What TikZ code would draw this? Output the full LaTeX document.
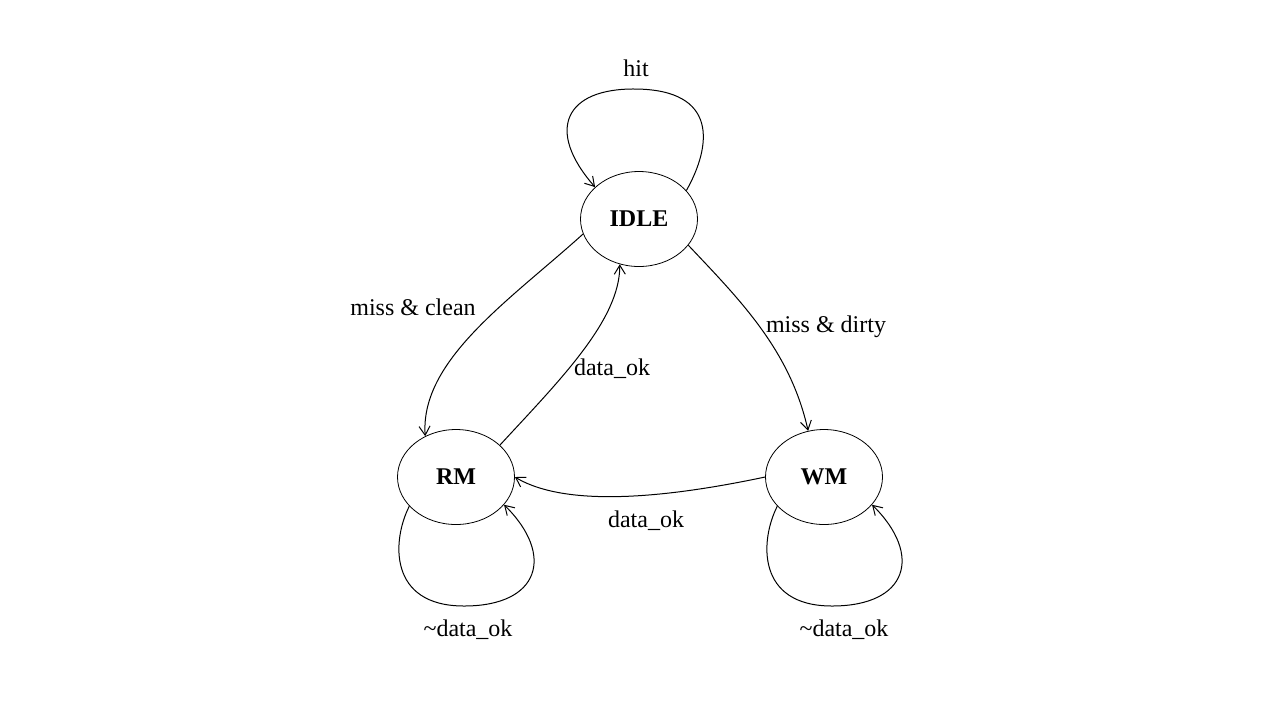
\documentclass[tikz,border=0pt]{standalone}
\usepackage{fontspec}
\setmainfont{Liberation Serif}
\usetikzlibrary{shapes.geometric,arrows.meta}
\begin{document}
\begin{tikzpicture}[x=0.5pt,y=-0.5pt,
  state/.style={draw,ellipse,minimum width=58.5pt,minimum height=47.5pt,inner sep=0pt,font=\fontsize{12}{14}\selectfont\bfseries},
  lbl/.style={font=\fontsize{12}{14}\selectfont,inner sep=0pt},
  edge/.style={draw,-{Straight Barb[length=4.5pt,width=5.5pt]},line width=0.5pt}]
\useasboundingbox (0,0) rectangle (1280,720);
\node[state] (IDLE) at (639,219) {IDLE};
\node[state] (RM) at (456,477) {RM};
\node[state] (WM) at (824,477) {WM};
\node[lbl] (lhit) at (636,68) {hit};
\node[lbl] (lmc) at (413,307) {miss \& clean};
\node[lbl] (lmd) at (826,327) {miss \& dirty};
\node[lbl] (ld1) at (612,369) {data\_ok};
\node[lbl] (ld2) at (646,521) {data\_ok};
\node[lbl] (lr) at (468,630) {\textasciitilde data\_ok};
\node[lbl] (lw) at (844,630) {\textasciitilde data\_ok};
\path[edge] (IDLE.31) .. controls (712,145) and (718,90) .. (636,89) .. controls (565,88) and (545,130) .. (IDLE.144);
\path[edge] (IDLE.195) .. controls (510,300) and (420,360) .. (RM.127);
\path[edge] (RM.36) .. controls (560,380) and (620,320) .. (IDLE.247);
\path[edge] (IDLE.-28) .. controls (740,300) and (790,350) .. (WM.109);
\path[edge] (WM.180) .. controls (680,495) and (570,510) .. (RM.0);
\path[edge] (RM.212) .. controls (392,540) and (388,606) .. (464,606) .. controls (540,606) and (555,555) .. (RM.330);
\path[edge] (WM.212) .. controls (760,540) and (756,606) .. (832,606) .. controls (908,606) and (923,555) .. (WM.330);
\end{tikzpicture}
\end{document}
